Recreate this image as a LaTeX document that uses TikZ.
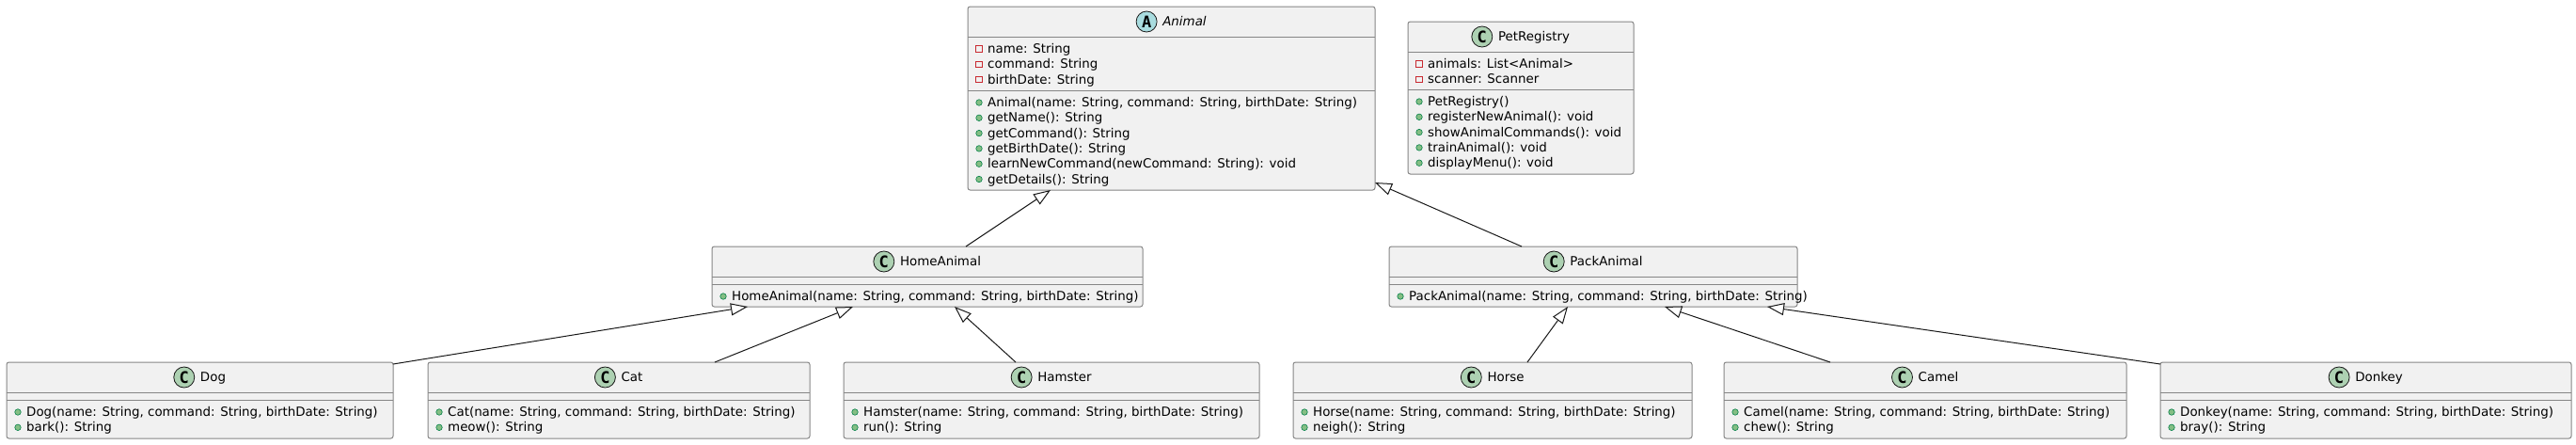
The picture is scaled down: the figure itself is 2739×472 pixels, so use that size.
\documentclass[tikz,border=0pt]{standalone}
\usepackage{fontspec}
\setmainfont{DejaVu Sans}
\newfontfamily\spotfont{DejaVu Sans Mono}
\usetikzlibrary{arrows.meta}
\definecolor{boxfill}{HTML}{F1F1F1}
\definecolor{ink}{HTML}{181818}
\definecolor{boxline}{HTML}{868686}
\definecolor{spotC}{HTML}{ADD1B2}
\definecolor{spotA}{HTML}{A9DCDF}
\definecolor{privred}{HTML}{C82930}
\definecolor{pubfill}{HTML}{84BE84}
\definecolor{pubdraw}{HTML}{038048}
\tikzset{
  classbox/.style={draw=boxline, line width=1pt, fill=boxfill, rounded corners=2.5pt, anchor=north west, inner sep=0pt, outer sep=0pt},
  sepline/.style={draw=boxline, line width=1pt},
  member/.style={anchor=base west, inner sep=0pt, font=\fontsize{13.4}{16}\selectfont},
  titletext/.style={anchor=center, inner sep=0pt, text height=9.8pt, text depth=0pt, font=\fontsize{13.4}{16}\selectfont},
  spot/.style={circle, draw=ink, line width=0.8pt, minimum size=22pt, inner sep=0pt, font=\spotfont\bfseries\fontsize{17}{17}\selectfont},
  privicon/.style={rectangle, draw=privred, line width=0.8pt, minimum size=6.5pt, inner sep=0pt},
  pubicon/.style={circle, draw=pubdraw, fill=pubfill, line width=0.6pt, minimum size=6.5pt, inner sep=0pt},
  inherit/.style={draw=ink, line width=1pt, -{Triangle[open,length=18pt,width=13pt,fill=white]}},
}
\newcommand{\PubRow}[3]{\node[pubicon] at ({#1+12},{#2-4.5}) {}; \node[member] at ({#1+21},{#2}) {#3};}
\newcommand{\PrivRow}[3]{\node[privicon] at ({#1+12},{#2-4.5}) {}; \node[member] at ({#1+21},{#2}) {#3};}
\begin{document}
\begin{tikzpicture}[x=1pt, y=-1pt]
\useasboundingbox (0,0) rectangle (2739,472);

% ---------- Animal ----------
\node[classbox, minimum width=433pt, minimum height=195pt] (animal) at (1029,7) {};
\draw[sepline] (1029,39) -- (1462,39);
\draw[sepline] (1029,96) -- (1462,96);
\node[titletext] (animalT) at (1259.5,23) {\itshape Animal};
\node[spot, fill=spotA] at ([xshift=-17pt]animalT.west) {A};
\PrivRow{1029}{56.5}{name: String}
\PrivRow{1029}{72.8}{command: String}
\PrivRow{1029}{89.1}{birthDate: String}
\PubRow{1029}{113.5}{Animal(name: String, command: String, birthDate: String)}
\PubRow{1029}{129.8}{getName(): String}
\PubRow{1029}{146.1}{getCommand(): String}
\PubRow{1029}{162.4}{getBirthDate(): String}
\PubRow{1029}{178.7}{learnNewCommand(newCommand: String): void}
\PubRow{1029}{195.0}{getDetails(): String}

% ---------- PetRegistry ----------
\node[classbox, minimum width=240pt, minimum height=162pt] (registry) at (1497,23) {};
\draw[sepline] (1497,55) -- (1737,55);
\draw[sepline] (1497,95) -- (1737,95);
\node[titletext] (registryT) at (1631,39) {PetRegistry};
\node[spot, fill=spotC] at ([xshift=-17pt]registryT.west) {C};
\PrivRow{1497}{72.5}{animals: List<Animal>}
\PrivRow{1497}{88.8}{scanner: Scanner}
\PubRow{1497}{112.5}{PetRegistry()}
\PubRow{1497}{128.8}{registerNewAnimal(): void}
\PubRow{1497}{145.1}{showAnimalCommands(): void}
\PubRow{1497}{161.4}{trainAnimal(): void}
\PubRow{1497}{177.7}{displayMenu(): void}

% ---------- HomeAnimal ----------
\node[classbox, minimum width=458pt, minimum height=64pt] (home) at (757,262) {};
\draw[sepline] (757,294) -- (1215,294);
\draw[sepline] (757,302) -- (1215,302);
\node[titletext] (homeT) at (1000,278) {HomeAnimal};
\node[spot, fill=spotC] at ([xshift=-17pt]homeT.west) {C};
\PubRow{757}{319.5}{HomeAnimal(name: String, command: String, birthDate: String)}

% ---------- PackAnimal ----------
\node[classbox, minimum width=434pt, minimum height=64pt] (pack) at (1477,262) {};
\draw[sepline] (1477,294) -- (1911,294);
\draw[sepline] (1477,302) -- (1911,302);
\node[titletext] (packT) at (1708,278) {PackAnimal};
\node[spot, fill=spotC] at ([xshift=-17pt]packT.west) {C};
\PubRow{1477}{319.5}{PackAnimal(name: String, command: String, birthDate: String)}

% ---------- Dog ----------
\node[classbox, minimum width=411pt, minimum height=81pt] (dog) at (7,385) {};
\draw[sepline] (7,417) -- (418,417);
\draw[sepline] (7,425) -- (418,425);
\node[titletext] (dogT) at (226.5,401) {Dog};
\node[spot, fill=spotC] at ([xshift=-17pt]dogT.west) {C};
\PubRow{7}{442.5}{Dog(name: String, command: String, birthDate: String)}
\PubRow{7}{458.8}{bark(): String}

% ---------- Cat ----------
\node[classbox, minimum width=406pt, minimum height=81pt] (cat) at (455,385) {};
\draw[sepline] (455,417) -- (861,417);
\draw[sepline] (455,425) -- (861,425);
\node[titletext] (catT) at (672,401) {Cat};
\node[spot, fill=spotC] at ([xshift=-17pt]catT.west) {C};
\PubRow{455}{442.5}{Cat(name: String, command: String, birthDate: String)}
\PubRow{455}{458.8}{meow(): String}

% ---------- Hamster ----------
\node[classbox, minimum width=442pt, minimum height=81pt] (hamster) at (897,385) {};
\draw[sepline] (897,417) -- (1339,417);
\draw[sepline] (897,425) -- (1339,425);
\node[titletext] (hamsterT) at (1132,401) {Hamster};
\node[spot, fill=spotC] at ([xshift=-17pt]hamsterT.west) {C};
\PubRow{897}{442.5}{Hamster(name: String, command: String, birthDate: String)}
\PubRow{897}{458.8}{run(): String}

% ---------- Horse ----------
\node[classbox, minimum width=424pt, minimum height=81pt] (horse) at (1375,385) {};
\draw[sepline] (1375,417) -- (1799,417);
\draw[sepline] (1375,425) -- (1799,425);
\node[titletext] (horseT) at (1601,401) {Horse};
\node[spot, fill=spotC] at ([xshift=-17pt]horseT.west) {C};
\PubRow{1375}{442.5}{Horse(name: String, command: String, birthDate: String)}
\PubRow{1375}{458.8}{neigh(): String}

% ---------- Camel ----------
\node[classbox, minimum width=428pt, minimum height=81pt] (camel) at (1833,385) {};
\draw[sepline] (1833,417) -- (2261,417);
\draw[sepline] (1833,425) -- (2261,425);
\node[titletext] (camelT) at (2061,401) {Camel};
\node[spot, fill=spotC] at ([xshift=-17pt]camelT.west) {C};
\PubRow{1833}{442.5}{Camel(name: String, command: String, birthDate: String)}
\PubRow{1833}{458.8}{chew(): String}

% ---------- Donkey ----------
\node[classbox, minimum width=437pt, minimum height=81pt] (donkey) at (2297,385) {};
\draw[sepline] (2297,417) -- (2734,417);
\draw[sepline] (2297,425) -- (2734,425);
\node[titletext] (donkeyT) at (2529.5,401) {Donkey};
\node[spot, fill=spotC] at ([xshift=-17pt]donkeyT.west) {C};
\PubRow{2297}{442.5}{Donkey(name: String, command: String, birthDate: String)}
\PubRow{2297}{458.8}{bray(): String}

% ---------- Inheritance connectors ----------
\draw[inherit] ([xshift=270pt]home.north west) -- ([xshift=88pt]animal.south west);
\draw[inherit] ([xshift=141pt]pack.north west) -- ([yshift=8pt]animal.south east);
\draw[inherit] ([yshift=-2pt]dog.north east) -- ([xshift=38pt]home.south west);
\draw[inherit] ([xshift=305pt]cat.north west) -- ([xshift=150pt]home.south west);
\draw[inherit] ([xshift=183pt]hamster.north west) -- ([xshift=258pt]home.south west);
\draw[inherit] ([xshift=249pt]horse.north west) -- ([xshift=190pt]pack.south west);
\draw[inherit] ([xshift=113pt]camel.north west) -- ([xshift=293pt]pack.south west);
\draw[inherit] ([yshift=-2pt]donkey.north west) -- ([xshift=402pt]pack.south west);
\end{tikzpicture}
\end{document}
